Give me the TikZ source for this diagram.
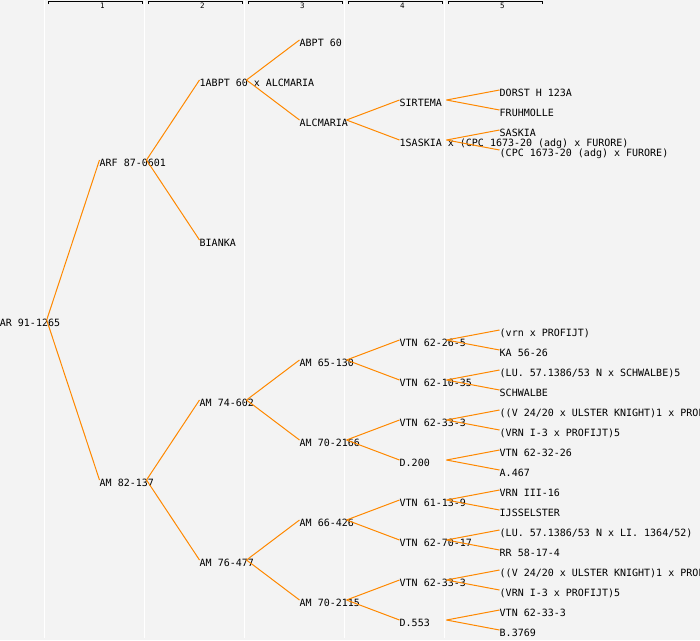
\documentclass[tikz,border=0pt]{standalone}
\usepackage{fontspec}
\setmonofont{DejaVu Sans Mono}
\usepackage{xcolor}
\usepackage{tikz}
\definecolor{paper}{RGB}{243,243,243}
\definecolor{linkorange}{RGB}{255,136,0}

\begin{document}
\begin{tikzpicture}[x=1pt,y=-1pt,
  horse/.style={anchor=base west,inner sep=0pt,font=\ttfamily\fontsize{10}{12}\selectfont},
  colnum/.style={anchor=base west,inner sep=0pt,font=\ttfamily\fontsize{7.5}{8}\selectfont},
  link/.style={draw=linkorange,line width=1pt},
  bracket/.style={draw=black,line width=1pt},
  sep/.style={draw=white,line width=1.2pt}]
\useasboundingbox (0,0) rectangle (700,640);
\fill[paper] (0,0) rectangle (700,640);

% Column separators and headers
\foreach \c in {0,...,4}
  \draw[sep] (44.3+100*\c,0) -- (44.3+100*\c,638);
\foreach \c in {1,...,5} {
  \draw[bracket] (100*\c-52,4.2) -- (100*\c-52,1.7) -- (100*\c+42,1.7) -- (100*\c+42,4.2);
  \node[colnum] (col\c) at (100*\c,8.5) {\c};
}

% Generation 0 and 1
\node[horse] (n1) at (-0.3,326) {AR 91-1265};
\node[horse] (n2) at (99.5,166) {ARF 87-0601};
\node[horse] (n3) at (99.5,486) {AM 82-137};

% Generation 2
\node[horse] (n4) at (199.5,86) {1ABPT 60 x ALCMARIA};
\node[horse] (n5) at (199.5,246) {BIANKA};
\node[horse] (n6) at (199.5,406) {AM 74-602};
\node[horse] (n7) at (199.5,566) {AM 76-477};

% Generation 3
\node[horse] (n8) at (299.5,46) {ABPT 60};
\node[horse] (n9) at (299.5,126) {ALCMARIA};
\node[horse] (n12) at (299.5,366) {AM 65-130};
\node[horse] (n13) at (299.5,446) {AM 70-2166};
\node[horse] (n14) at (299.5,526) {AM 66-426};
\node[horse] (n15) at (299.5,606) {AM 70-2115};

% Generation 4
\node[horse] (n18) at (399.5,106) {SIRTEMA};
\node[horse] (n19) at (399.5,146) {1SASKIA x (CPC 1673-20 (adg) x FURORE)};
\node[horse] (n24) at (399.5,346) {VTN 62-26-5};
\node[horse] (n25) at (399.5,386) {VTN 62-10-35};
\node[horse] (n26) at (399.5,426) {VTN 62-33-3};
\node[horse] (n27) at (399.5,466) {D.200};
\node[horse] (n28) at (399.5,506) {VTN 61-13-9};
\node[horse] (n29) at (399.5,546) {VTN 62-70-17};
\node[horse] (n30) at (399.5,586) {VTN 62-33-3};
\node[horse] (n31) at (399.5,626) {D.553};

% Generation 5
\node[horse] (n36) at (499.5,96) {DORST H 123A};
\node[horse] (n37) at (499.5,116) {FRUHMOLLE};
\node[horse] (n38) at (499.5,136) {SASKIA};
\node[horse] (n39) at (499.5,156) {(CPC 1673-20 (adg) x FURORE)};
\node[horse] (n48) at (499.5,336) {(vrn x PROFIJT)};
\node[horse] (n49) at (499.5,356) {KA 56-26};
\node[horse] (n50) at (499.5,376) {(LU. 57.1386/53 N x SCHWALBE)5};
\node[horse] (n51) at (499.5,396) {SCHWALBE};
\node[horse] (n52) at (499.5,416) {((V 24/20 x ULSTER KNIGHT)1 x PROF};
\node[horse] (n53) at (499.5,436) {(VRN I-3 x PROFIJT)5};
\node[horse] (n54) at (499.5,456) {VTN 62-32-26};
\node[horse] (n55) at (499.5,476) {A.467};
\node[horse] (n56) at (499.5,496) {VRN III-16};
\node[horse] (n57) at (499.5,516) {IJSSELSTER};
\node[horse] (n58) at (499.5,536) {(LU. 57.1386/53 N x LI. 1364/52)};
\node[horse] (n59) at (499.5,556) {RR 58-17-4};
\node[horse] (n60) at (499.5,576) {((V 24/20 x ULSTER KNIGHT)1 x PROF};
\node[horse] (n61) at (499.5,596) {(VRN I-3 x PROFIJT)5};
\node[horse] (n62) at (499.5,616) {VTN 62-33-3};
\node[horse] (n63) at (499.5,636) {B.3769};

% Parent to sire and dam
\foreach \p/\c in {1/2,1/3,2/4,2/5,3/6,3/7,4/8,4/9,6/12,6/13,7/14,7/15,
    9/18,9/19,12/24,12/25,13/26,13/27,14/28,14/29,15/30,15/31,
    18/36,18/37,19/38,19/39,24/48,24/49,25/50,25/51,26/52,26/53,
    27/54,27/55,28/56,28/57,29/58,29/59,30/60,30/61,31/62,31/63}
  \draw[link] ([xshift=47pt,yshift=6pt]n\p.base west) -- ([yshift=6pt]n\c.base west);
\end{tikzpicture}
\end{document}
